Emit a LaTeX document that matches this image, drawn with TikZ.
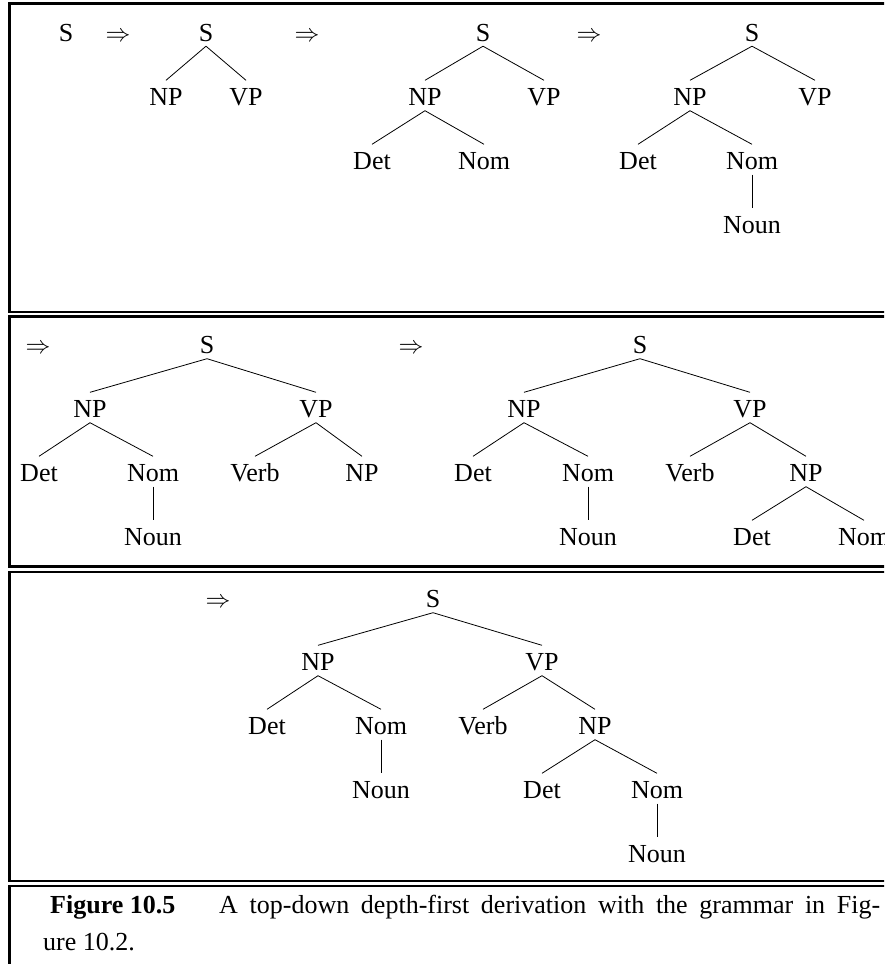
\documentclass[tikz,border=0pt]{standalone}
\usepackage{fontspec}
\setmainfont{Liberation Serif}
\begin{document}
\begin{tikzpicture}[x=1pt,y=-1pt,
  lab/.style={font=\fontsize{26}{31}\selectfont, anchor=base, text height=20pt, text depth=0pt, inner xsep=0pt, inner ysep=5pt},
  arr/.style={font=\fontsize{26}{31}\selectfont, anchor=base, inner sep=0pt},
  edge/.style={line width=0.8pt},
  frame/.style={line width=2.4pt},
  captext/.style={font=\fontsize{26}{37}\selectfont, anchor=base west, inner sep=0pt}]
\useasboundingbox (0,0) rectangle (884,964);
\clip (0,0) rectangle (884,964);
% frames
\draw[frame] (960,3.5) -- (9.5,3.5) -- (9.5,312) -- (960,312);
\draw[frame] (960,316.5) -- (9.5,316.5) -- (9.5,566.5) -- (960,566.5);
\draw[frame] (960,572) -- (9.5,572) -- (9.5,881) -- (960,881);
\draw[frame] (960,886) -- (9.5,886) -- (9.5,1000);
% ---------- panel 1 ----------
\node[lab] (s0) at (66,41) {S};
\node[arr] (a1) at (118,41) {$\Rightarrow$};
\node[lab] (AS) at (206,41) {S};
\node[lab] (ANP) at (166,105.5) {NP};
\node[lab] (AVP) at (246,105.5) {VP};
\draw[edge] (AS.south) -- (ANP.north);
\draw[edge] (AS.south) -- (AVP.north);
\node[arr] (a2) at (307,41) {$\Rightarrow$};
\node[lab] (BS) at (483,41) {S};
\node[lab] (BNP) at (425,105.5) {NP};
\node[lab] (BVP) at (544,105.5) {VP};
\node[lab] (BDet) at (372,169.5) {Det};
\node[lab] (BNom) at (484,169.5) {Nom};
\draw[edge] (BS.south) -- (BNP.north);
\draw[edge] (BS.south) -- (BVP.north);
\draw[edge] (BNP.south) -- (BDet.north);
\draw[edge] (BNP.south) -- (BNom.north);
\node[arr] (a3) at (589,41) {$\Rightarrow$};
\node[lab] (CS) at (752,41) {S};
\node[lab] (CNP) at (690,105.5) {NP};
\node[lab] (CVP) at (815,105.5) {VP};
\node[lab] (CDet) at (638,169.5) {Det};
\node[lab] (CNom) at (752,169.5) {Nom};
\node[lab] (CNoun) at (752,233.5) {Noun};
\draw[edge] (CS.south) -- (CNP.north);
\draw[edge] (CS.south) -- (CVP.north);
\draw[edge] (CNP.south) -- (CDet.north);
\draw[edge] (CNP.south) -- (CNom.north);
\draw[edge] (CNom.south) -- (CNoun.north);
% ---------- panel 2 ----------
\node[arr] (a4) at (38,353.5) {$\Rightarrow$};
\node[lab] (DS) at (207,353.5) {S};
\node[lab] (DNP) at (90,417.5) {NP};
\node[lab] (DVP) at (316,417.5) {VP};
\node[lab] (DDet) at (39,481.5) {Det};
\node[lab] (DNom) at (153,481.5) {Nom};
\node[lab] (DVerb) at (255,481.5) {Verb};
\node[lab] (DNPb) at (362,481.5) {NP};
\node[lab] (DNoun) at (153,545.5) {Noun};
\draw[edge] (DS.south) -- (DNP.north);
\draw[edge] (DS.south) -- (DVP.north);
\draw[edge] (DNP.south) -- (DDet.north);
\draw[edge] (DNP.south) -- (DNom.north);
\draw[edge] (DVP.south) -- (DVerb.north);
\draw[edge] (DVP.south) -- (DNPb.north);
\draw[edge] (DNom.south) -- (DNoun.north);
\node[arr] (a5) at (411,353.5) {$\Rightarrow$};
\node[lab] (ES) at (640,353.5) {S};
\node[lab] (ENP) at (524,417.5) {NP};
\node[lab] (EVP) at (750,417.5) {VP};
\node[lab] (EDet) at (473,481.5) {Det};
\node[lab] (ENom) at (588,481.5) {Nom};
\node[lab] (EVerb) at (690,481.5) {Verb};
\node[lab] (ENPb) at (806,481.5) {NP};
\node[lab] (ENoun) at (588,545.5) {Noun};
\node[lab] (EDetb) at (752,545.5) {Det};
\node[lab] (ENomb) at (864,545.5) {Nom};
\draw[edge] (ES.south) -- (ENP.north);
\draw[edge] (ES.south) -- (EVP.north);
\draw[edge] (ENP.south) -- (EDet.north);
\draw[edge] (ENP.south) -- (ENom.north);
\draw[edge] (EVP.south) -- (EVerb.north);
\draw[edge] (EVP.south) -- (ENPb.north);
\draw[edge] (ENom.south) -- (ENoun.north);
\draw[edge] (ENPb.south) -- (EDetb.north);
\draw[edge] (ENPb.south) -- (ENomb.north);
% ---------- panel 3 ----------
\node[arr] (a6) at (218,607.5) {$\Rightarrow$};
\node[lab] (FS) at (433,607.5) {S};
\node[lab] (FNP) at (318,670.5) {NP};
\node[lab] (FVP) at (542,670.5) {VP};
\node[lab] (FDet) at (267,734.5) {Det};
\node[lab] (FNom) at (381,734.5) {Nom};
\node[lab] (FVerb) at (483,734.5) {Verb};
\node[lab] (FNPb) at (595,734.5) {NP};
\node[lab] (FNoun) at (381,798.5) {Noun};
\node[lab] (FDetb) at (542,798.5) {Det};
\node[lab] (FNomb) at (657,798.5) {Nom};
\node[lab] (FNounb) at (657,862.5) {Noun};
\draw[edge] (FS.south) -- (FNP.north);
\draw[edge] (FS.south) -- (FVP.north);
\draw[edge] (FNP.south) -- (FDet.north);
\draw[edge] (FNP.south) -- (FNom.north);
\draw[edge] (FVP.south) -- (FVerb.north);
\draw[edge] (FVP.south) -- (FNPb.north);
\draw[edge] (FNom.south) -- (FNoun.north);
\draw[edge] (FNPb.south) -- (FDetb.north);
\draw[edge] (FNPb.south) -- (FNomb.north);
\draw[edge] (FNomb.south) -- (FNounb.north);
% ---------- caption ----------
\node[captext] (fig) at (50,913) {\textbf{Figure 10.5}};
\node[captext] (capA) at (219,913) {\makebox[661pt][s]{A top-down depth-first derivation with the grammar in Fig-}};
\node[captext] (capB) at (43,950) {ure 10.2.};
\end{tikzpicture}
\end{document}
